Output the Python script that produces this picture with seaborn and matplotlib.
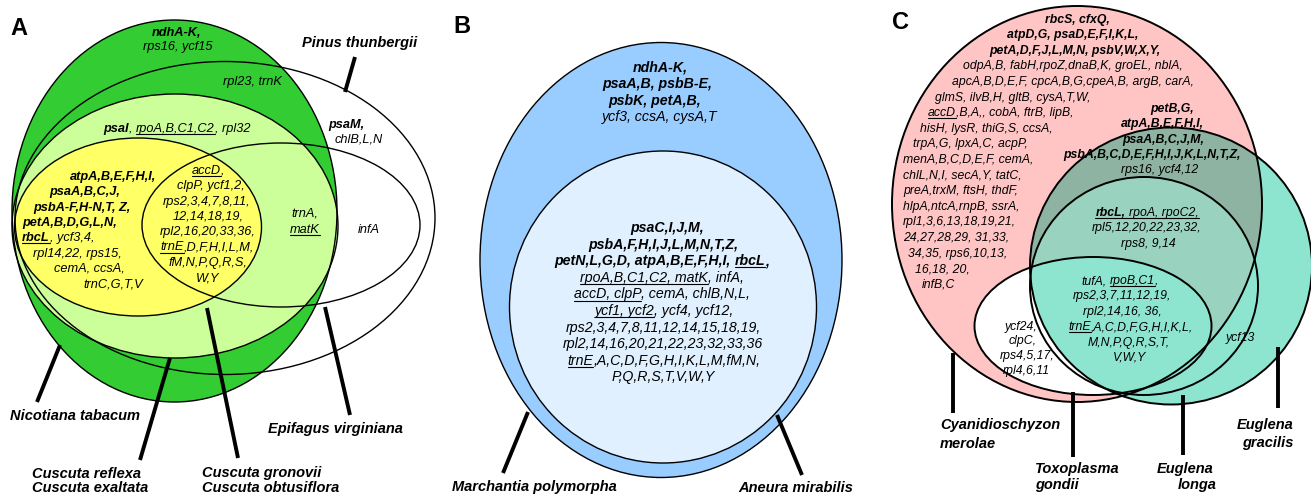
import re
import numpy as np
import pandas as pd
import matplotlib
matplotlib.use("Agg")
import matplotlib.pyplot as plt
from matplotlib.patches import Ellipse
from matplotlib.font_manager import FontProperties
import seaborn as sns

sns.set_theme(style="white")
plt.rcParams["font.family"] = ["Liberation Sans", "DejaVu Sans"]
FAM = "Liberation Sans"
W, H = 1311, 496

# ------------------------------------------------------------------ data
# markup: **bold**, __underline__
# Panel A
a_nicotiana_only = ["**ndhA-K,**", "rps16, ycf15"]
a_nicotiana_pinus = ["rpl23, trnK"]
a_reflexa = ["**psaI**, __rpoA,B,C1,C2__, rpl32"]
a_pinus_only = ["**psaM,**", "chlB,L,N"]
a_gronovii = ["**atpA,B,E,F,H,I,**", "**psaA,B,C,J,**", "**psbA-F,H-N,T, Z,**",
              "**petA,B,D,G,L,N,**", "**__rbcL__**, ycf3,4,", "rpl14,22, rps15,",
              "cemA, ccsA,", "trnC,G,T,V"]
a_core = ["__accD__,", "clpP, ycf1,2,", "rps2,3,4,7,8,11,", "12,14,18,19,",
          "rpl2,16,20,33,36,", "__trnE__,D,F,H,I,L,M,", "fM,N,P,Q,R,S,", "W,Y"]
a_reflexa_epifagus = ["trnA,", "__matK__"]
a_pinus_epifagus = ["infA"]
a_species = ["Pinus thunbergii", "Nicotiana tabacum", "Epifagus virginiana",
             "Cuscuta reflexa", "Cuscuta exaltata", "Cuscuta gronovii", "Cuscuta obtusiflora"]

# Panel B
b_marchantia_only = ["**ndhA-K,**", "**psaA,B, psbB-E,**", "**psbK, petA,B,**", "ycf3, ccsA, cysA,T"]
b_shared = ["**psaC,I,J,M,**", "**psbA,F,H,I,J,L,M,N,T,Z,**",
            "**petN,L,G,D, atpA,B,E,F,H,I, __rbcL__,**",
            "__rpoA,B,C1,C2, matK__, infA,", "__accD, clpP__, cemA, chlB,N,L,",
            "__ycf1, ycf2__, ycf4, ycf12,", "rps2,3,4,7,8,11,12,14,15,18,19,",
            "rpl2,14,16,20,21,22,23,32,33,36", "__trnE__,A,C,D,F,G,H,I,K,L,M,fM,N,",
            "P,Q,R,S,T,V,W,Y"]
b_species = ["Marchantia polymorpha", "Aneura mirabilis"]

# Panel C
c_cyanidio_only = ["**rbcS, cfxQ,**", "**atpD,G, psaD,E,F,I,K,L,**",
                   "**petA,D,F,J,L,M,N, psbV,W,X,Y,**",
                   "odpA,B, fabH,rpoZ,dnaB,K, groEL, nblA,",
                   "apcA,B,D,E,F, cpcA,B,G,cpeA,B, argB, carA,",
                   "glmS, ilvB,H, gltB, cysA,T,W,", "__accD__,B,A,, cobA, ftrB, lipB,",
                   "hisH, lysR, thiG,S, ccsA,", "trpA,G, lpxA,C, acpP,",
                   "menA,B,C,D,E,F, cemA,", "chlL,N,I, secA,Y, tatC,",
                   "preA,trxM, ftsH, thdF,", "hlpA,ntcA,rnpB, ssrA,",
                   "rpl1,3,6,13,18,19,21,", "24,27,28,29, 31,33,",
                   "34,35, rps6,10,13,", "16,18, 20,", "infB,C"]
c_cyanidio_gracilis = ["**petB,G,**", "**atpA,B,E,F,H,I,**", "**psaA,B,C,J,M,**",
                       "**psbA,B,C,D,E,F,H,I,J,K,L,N,T,Z,**", "rps16, ycf4,12"]
c_cyanidio_euglenas = ["**__rbcL,__**__ rpoA, rpoC2,__", "rpl5,12,20,22,23,32,", "rps8, 9,14"]
c_all_four = ["tufA, __rpoB,C1__,", "rps2,3,7,11,12,19,", "rpl2,14,16, 36,",
              "__trnE__,A,C,D,F,G,H,I,K,L,", "M,N,P,Q,R,S,T,", "V,W,Y"]
c_cyanidio_toxo = ["ycf24,", "clpC,", "rps4,5,17,", "rpl4,6,11"]
c_gracilis_only = ["ycf13"]
c_species = ["Cyanidioschyzon", "merolae", "Toxoplasma", "gondii",
             "Euglena", "longa", "Euglena", "gracilis"]

panel_letters = ["A", "B", "C"]

# ------------------------------------------------------------------ layout
# ellipses: (cx, cy, width, height) in pixel units
ELL = {
    "pinus": (225, 218, 420, 313), "nicotiana": (174.5, 211, 325, 382),
    "reflexa": (175, 226, 326, 264), "gronovii": (138, 227, 247, 178),
    "epifagus": (281, 225, 278, 164),
    "marchantia": (661, 260, 362, 435), "aneura": (663, 307, 307, 312),
    "cyanidio": (1077, 204, 370, 396), "gracilis": (1171, 266, 282, 277),
    "longa": (1144, 286, 228, 218), "toxo": (1093, 326, 237, 138),
}
COL = {"green": "#33cc33", "lgreen": "#ccff99", "yellow": "#ffff66",
       "blue": "#99ccff", "lblue": "#e0f0ff", "pink": "#ffc5c5",
       "teal": "#8ee5cf", "dark": "#8fb3a3", "mid": "#99d2be"}

def ys(y0, dy, n):
    return [y0 + dy * i for i in range(n)]

# (lines, x-list, y-list, ha-list or str, size)
BLOCKS = [
    (a_nicotiana_only, [177, 178], [32, 46], "center", 9.2),
    (a_nicotiana_pinus, [252], [81], "center", 9.2),
    (a_reflexa, [177], [128], "center", 9.2),
    (a_pinus_only, [328, 335], [124, 138], "left", 9.2),
    (a_gronovii, [113, 85, 82, 70, 58, 77, 89, 113], ys(176, 15.3, 8), "center", 9.2),
    (a_core, [208, 211, 207, 208, 208, 207, 208, 208], ys(170, 15.3, 8), "center", 9.2),
    (a_reflexa_epifagus, [305, 305], [213, 229], "center", 9.2),
    (a_pinus_epifagus, [369], [229], "center", 9.2),
    (b_marchantia_only, [660, 657, 655, 660], [67, 84, 101, 117], "center", 10.2),
    (b_shared, [667, 663, 662, 662, 662, 664, 663, 663, 664, 663], ys(228, 16.6, 10), "center", 10.2),
    (c_cyanidio_only, [1077, 1073, 1075, 1073, 1073] + [935, 928, 920, 913, 903, 903, 903, 903, 903, 903, 908, 915, 922],
     ys(18.5, 15.6, 18), ["center"] * 5 + ["left"] * 13, 8.8),
    (c_cyanidio_gracilis, [1172, 1162, 1163, 1152, 1160], ys(108, 15.3, 5), "center", 8.8),
    (c_cyanidio_euglenas, [1147, 1147, 1148], [212, 227, 243], "center", 8.8),
    (c_all_four, [1120, 1122, 1122, 1131, 1129, 1130], ys(280, 15.4, 6), "center", 8.8),
    (c_cyanidio_toxo, [1021, 1023, 1027, 1026], [326, 340, 355, 370], "center", 8.8),
    (c_gracilis_only, [1240], [337], "center", 8.8),
]
SPECIES = [
    (a_species, [302, 10, 268, 32, 32, 202, 202], [43, 416, 429, 473, 487, 473, 487], ["left"] * 7),
    (b_species, [452, 738], [487, 487], ["left"] * 2),
    (c_species, [940, 940, 1035, 1035, 1157, 1178, 1293, 1293],
     [425, 443, 468, 485, 468, 485, 425, 443], ["left"] * 6 + ["right"] * 2),
]
LETTERS = [(10, 35), (453, 33), (892, 29)]
POINTERS = pd.DataFrame({
    "seg": np.repeat(np.arange(11), 2),
    "x": [355, 345, 60, 37, 170, 140, 207, 238, 325, 350,
          528, 503, 777, 802,
          953, 953, 1073, 1073, 1183, 1183, 1278, 1278],
    "y": [57, 92, 345, 402, 358, 460, 308, 458, 307, 415,
          412, 473, 415, 475,
          353, 413, 392, 457, 395, 455, 347, 408],
})

# ------------------------------------------------------------------ drawing
fig = plt.figure(figsize=(W / 100, H / 100), dpi=100)
ax = fig.add_axes([0, 0, 1, 1])
ax.set_xlim(0, W)
ax.set_ylim(H, 0)
ax.axis("off")
renderer = fig.canvas.get_renderer()


def ell(name, fc="none", lw=0, z=1, clip=None):
    cx, cy, w, h = ELL[name]
    e = Ellipse((cx, cy), w, h, facecolor=fc, edgecolor="black" if lw else "none",
                linewidth=lw, zorder=z, transform=ax.transData)
    ax.add_patch(e)
    if clip is not None:
        cx2, cy2, w2, h2 = ELL[clip]
        cp = Ellipse((cx2, cy2), w2, h2, transform=ax.transData)
        e.set_clip_path(cp)
    return e

# Panel A
ell("pinus", "white", z=1)
ell("nicotiana", COL["green"], z=1.1)
ell("reflexa", COL["lgreen"], z=1.2)
ell("gronovii", COL["yellow"], z=1.3)
for n in ["pinus", "nicotiana", "reflexa", "gronovii", "epifagus"]:
    ell(n, lw=1.0, z=4)
# Panel B
ell("marchantia", COL["blue"], z=1)
ell("aneura", COL["lblue"], z=1.1)
for n in ["marchantia", "aneura"]:
    ell(n, lw=1.0, z=4)
# Panel C
ell("cyanidio", COL["pink"], z=1)
ell("gracilis", COL["teal"], z=1.1)
ell("gracilis", COL["dark"], z=1.2, clip="cyanidio")
ell("longa", COL["mid"], z=1.3, clip="cyanidio")
ell("toxo", "white", z=1.4)
ell("gracilis", COL["teal"], z=1.5, clip="toxo")
for n in ["cyanidio", "gracilis", "longa", "toxo"]:
    ell(n, lw=1.4, z=4)


def fprop(size, bold=False, italic=True):
    return FontProperties(family=FAM, style="italic" if italic else "normal",
                          weight="bold" if bold else "normal", size=size)


def text_w(s, prop):
    if not s:
        return 0.0
    w1, _, _ = renderer.get_text_width_height_descent(s + "|", prop, ismath=False)
    w2, _, _ = renderer.get_text_width_height_descent("|", prop, ismath=False)
    return w1 - w2


def parse(line):
    segs, bold, ul = [], False, False
    for tok in re.split(r"(\*\*|__)", line):
        if tok == "**":
            bold = not bold
        elif tok == "__":
            ul = not ul
        elif tok:
            segs.append((tok, bold, ul))
    return segs


def rich_line(x, y, line, size, ha="center"):
    segs = parse(line)
    widths = [text_w(t, fprop(size, b)) for t, b, u in segs]
    total = sum(widths)
    x0 = x - total / 2 if ha == "center" else (x - total if ha == "right" else x)
    base = y + 4
    for (t, b, u), w in zip(segs, widths):
        p = fprop(size, b)
        lead = len(t) - len(t.lstrip(" "))
        off = text_w(" " * lead, p) if lead else 0.0
        vis = t.strip(" ")
        ax.text(x0 + off, base, vis, fontproperties=p, ha="left", va="baseline",
                color="black", zorder=6)
        if u:
            wv = text_w(t.rstrip(" "), p)
            ax.plot([x0, x0 + wv], [base + 2.2, base + 2.2], color="black", lw=0.8, zorder=6)
        x0 += w


for lines, xs, yy, has, size in BLOCKS:
    if isinstance(has, str):
        has = [has] * len(lines)
    for line, x, y, ha in zip(lines, xs, yy, has):
        rich_line(x, y, line, size, ha)

for names, xs, yy, has in SPECIES:
    for name, x, y, ha in zip(names, xs, yy, has):
        ax.text(x, y + 4.5, name, fontproperties=fprop(10.5, True), ha=ha,
                va="baseline", color="black", zorder=6)

for letter, (x, y) in zip(panel_letters, LETTERS):
    ax.text(x, y, letter, fontproperties=fprop(17, True, False), ha="left",
            va="baseline", color="black", zorder=6)

sns.lineplot(data=POINTERS, x="x", y="y", units="seg", estimator=None, sort=False,
             color="black", linewidth=2.8, ax=ax, legend=False, zorder=5)
for ln in ax.lines[-11:]:
    ln.set_solid_capstyle("butt")

ax.set_xlim(0, W)
ax.set_ylim(H, 0)
ax.axis("off")
fig.savefig("out.png", dpi=100, facecolor="white")
